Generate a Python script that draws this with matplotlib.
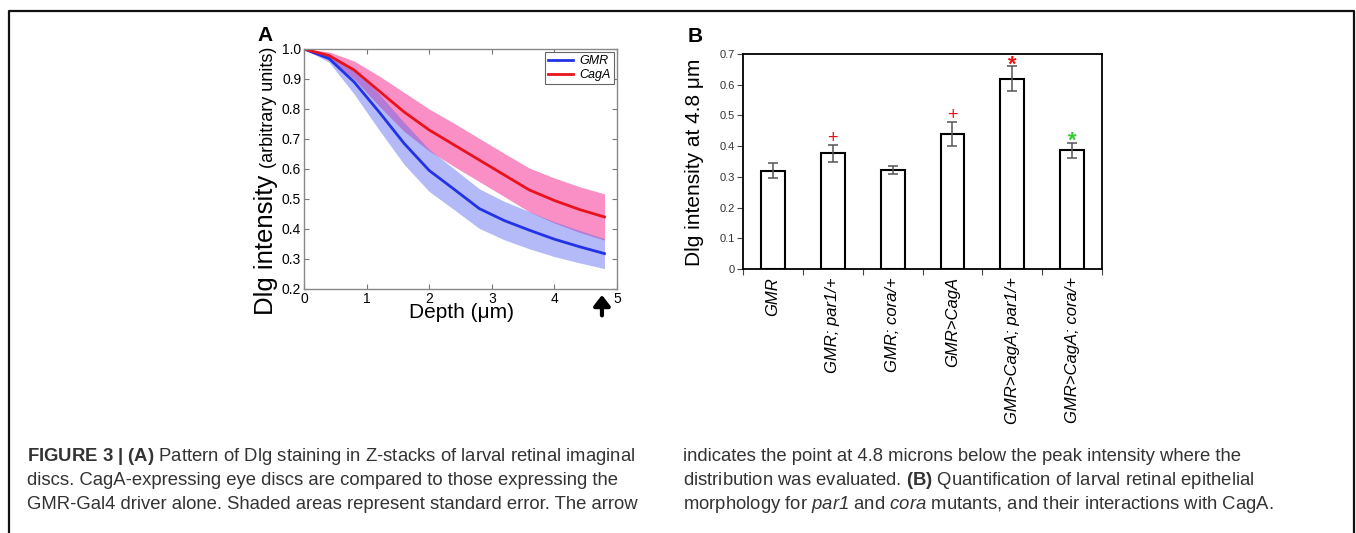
import numpy as np
import matplotlib
matplotlib.use("Agg")
import matplotlib.pyplot as plt
from matplotlib.lines import Line2D

plt.rcParams['font.family'] = ['Liberation Sans', 'DejaVu Sans']
# mathtext is used only inside the caption: rm -> italic words, bf -> bold labels
plt.rcParams['mathtext.fontset'] = 'custom'
plt.rcParams['mathtext.rm'] = 'Liberation Sans:italic'
plt.rcParams['mathtext.it'] = 'Liberation Sans:italic'
plt.rcParams['mathtext.bf'] = 'Liberation Sans:bold'

# panel A: Dlg intensity profile vs depth (mean and standard error)
depth = np.array([0, 0.4, 0.8, 1.2, 1.6, 2.0, 2.4, 2.8, 3.2, 3.6, 4.0, 4.4, 4.8])
gmr_mean = np.array([1.0, 0.968, 0.89, 0.79, 0.685, 0.595, 0.532, 0.468, 0.428, 0.396, 0.366, 0.341, 0.318])
gmr_se = np.array([0.0, 0.012, 0.04, 0.06, 0.07, 0.07, 0.068, 0.066, 0.064, 0.062, 0.058, 0.054, 0.05])
caga_mean = np.array([1.0, 0.978, 0.93, 0.86, 0.79, 0.73, 0.68, 0.63, 0.58, 0.53, 0.495, 0.465, 0.44])
caga_se = np.array([0.0, 0.012, 0.03, 0.05, 0.065, 0.07, 0.072, 0.072, 0.072, 0.073, 0.075, 0.076, 0.077])

# panel B: intensity at 4.8 um per genotype
genotypes = ['GMR', 'GMR; par1/+', 'GMR; cora/+', 'GMR>CagA',
             'GMR>CagA; par1/+', 'GMR>CagA; cora/+']
dlg_48 = [0.32, 0.377, 0.322, 0.44, 0.62, 0.386]
dlg_48_err = [0.024, 0.028, 0.012, 0.039, 0.04, 0.024]
sig_marks = ['', '+', '', '+', '*', '*']
sig_colors = ['k', '#ee1111', 'k', '#ee1111', '#ee1111', '#33cc33']

caption_left = [
    r"$\mathbf{FIGURE\ 3\ |\ (A)}$ Pattern of Dlg staining in Z-stacks of larval retinal imaginal",
    "discs. CagA-expressing eye discs are compared to those expressing the",
    "GMR-Gal4 driver alone. Shaded areas represent standard error. The arrow",
]
caption_right = [
    "indicates the point at 4.8 microns below the peak intensity where the",
    r"distribution was evaluated. $\mathbf{(B)}$ Quantification of larval retinal epithelial",
    r"morphology for $\mathrm{par1}$ and $\mathrm{cora}$ mutants, and their interactions with CagA.",
]

fig = plt.figure(figsize=(13.56, 5.33), dpi=100)

# outer frame (open at the bottom)
fig.add_artist(Line2D([0.0066, 0.0066, 0.9985, 0.9985], [0.0, 0.9794, 0.9794, 0.0],
                      transform=fig.transFigure, color='#111111', lw=1.6))

# ---- panel A
axA = fig.add_axes([0.2242, 0.4578, 0.2308, 0.4503])
axA.fill_between(depth, caga_mean - caga_se, caga_mean + caga_se, color='#f98fc4', lw=0)
axA.fill_between(depth, gmr_mean - gmr_se, gmr_mean + gmr_se, color='#5a64ee', alpha=0.45, lw=0)
axA.plot(depth, gmr_mean, color='#2233e6', lw=2, label='GMR')
axA.plot(depth, caga_mean, color='#e8131c', lw=2, label='CagA')
axA.set_xlim(0, 5)
axA.set_ylim(0.2, 1.0)
axA.set_xticks(range(6))
axA.set_yticks(np.arange(0.2, 1.01, 0.1))
axA.set_yticklabels(['%.1f' % v for v in np.arange(0.2, 1.01, 0.1)])
axA.tick_params(direction='in', top=True, right=True, length=3.5, width=0.8,
                color='#777777', labelsize=10, pad=2)
for s in axA.spines.values():
    s.set_color('#888888')
    s.set_linewidth(1.0)
leg = axA.legend(loc='upper right', prop=dict(style='italic', size=9), fancybox=False,
                 edgecolor='#666666', framealpha=1, borderaxespad=0.25, handlelength=2.0,
                 borderpad=0.25, labelspacing=0.15, handletextpad=0.5)
leg.get_frame().set_linewidth(0.8)
axA.annotate('', xy=(4.76, -0.025), xytext=(4.76, -0.11),
             xycoords=('data', 'axes fraction'), textcoords=('data', 'axes fraction'),
             arrowprops=dict(arrowstyle='-|>,head_width=0.35,head_length=0.45',
                             lw=3, color='k', mutation_scale=14, shrinkA=0, shrinkB=0),
             annotation_clip=False)
fig.text(0.3407, 0.4128, 'Depth (\u03bcm)', fontsize=15, ha='center', va='center')
fig.text(0.2015, 0.6717, 'Dlg intensity', fontsize=18.5, rotation=90,
         rotation_mode='anchor', ha='right', va='baseline')
fig.text(0.2015, 0.6755, ' (arbitrary units)', fontsize=13, rotation=90,
         rotation_mode='anchor', ha='left', va='baseline')
fig.text(0.1954, 0.9343, 'A', fontsize=15, fontweight='bold', ha='center', va='center')

# ---- panel B
axB = fig.add_axes([0.548, 0.4953, 0.2647, 0.4034])
xpos = np.arange(len(genotypes))
axB.bar(xpos, dlg_48, width=0.4, color='white', edgecolor='k', linewidth=1.5, zorder=2)
axB.errorbar(xpos, dlg_48, yerr=dlg_48_err, fmt='none', ecolor='#555555',
             elinewidth=1.1, capsize=3.5, capthick=1.1, zorder=3)
for i in range(len(genotypes)):
    if sig_marks[i] == '+':
        axB.text(xpos[i], dlg_48[i] + dlg_48_err[i] + 0.02, '+', color=sig_colors[i],
                 fontsize=13, ha='center', va='center')
    elif sig_marks[i] == '*':
        axB.text(xpos[i], dlg_48[i] + dlg_48_err[i] + 0.005, '*', color=sig_colors[i],
                 fontsize=16, fontweight='bold', ha='center', va='center')
axB.set_xlim(-0.5, len(genotypes) - 0.5)
axB.set_ylim(0, 0.7)
axB.set_yticks(np.arange(0, 0.71, 0.1))
axB.set_yticklabels(['0'] + ['%.1f' % v for v in np.arange(0.1, 0.71, 0.1)])
axB.set_xticks(xpos)
axB.set_xticklabels(genotypes, rotation=90, style='italic', fontsize=12)
axB.set_xticks(np.arange(-0.5, len(genotypes)), minor=True)
axB.tick_params(axis='x', which='major', length=0, pad=6)
axB.tick_params(axis='x', which='minor', length=4, width=0.8, direction='out', color='#444444')
axB.tick_params(axis='y', length=4, width=0.8, direction='out', color='#444444',
                labelsize=8, labelcolor='#333333', pad=2)
for s in axB.spines.values():
    s.set_color('k')
    s.set_linewidth(1.3)
fig.text(0.5162, 0.695, 'Dlg intensity at 4.8 \u03bcm', fontsize=15, rotation=90,
         rotation_mode='anchor', ha='center', va='baseline')
fig.text(0.5125, 0.9306, 'B', fontsize=15, fontweight='bold', ha='center', va='center')

# ---- caption
base_y = [0.135, 0.090, 0.045]
for line, y in zip(caption_left, base_y):
    fig.text(0.0199, y, line, fontsize=13.3, color='#333333', va='baseline')
for line, y in zip(caption_right, base_y):
    fig.text(0.5037, y, line, fontsize=13.3, color='#333333', va='baseline')

fig.savefig('out.png', dpi=100)
